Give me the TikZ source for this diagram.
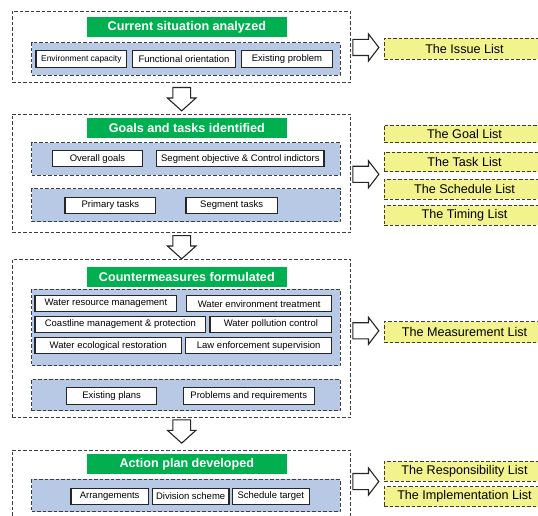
\documentclass[tikz,border=0pt]{standalone}
\usepackage{fontspec}
\setmainfont{Liberation Sans}
\usetikzlibrary{shapes.arrows}
\definecolor{titlegreen}{RGB}{0,176,80}
\definecolor{panelblue}{RGB}{183,201,228}
\definecolor{listyellow}{RGB}{243,243,142}
\definecolor{dashgray}{RGB}{60,60,60}
\tikzset{
 dashline/.style={draw=dashgray, line width=0.9pt, dash pattern=on 3.5pt off 2pt},
 outerbox/.style={dashline, fill=white, inner sep=0pt, minimum width=338.7pt},
 panel/.style={dashline, fill=panelblue, inner sep=0pt, minimum width=308.3pt},
 titlebox/.style={fill=titlegreen, text=white, font=\fontsize{12.6}{14}\selectfont\bfseries, inner sep=0pt, minimum width=200.3pt, minimum height=20pt},
 item/.style={draw=black!85, line width=1.1pt, fill=white, inner sep=0pt, font=\fontsize{9.5}{11}\selectfont, minimum height=16.4pt},
 listbox/.style={dashline, fill=listyellow, inner sep=0pt, minimum width=161pt, font=\fontsize{12.6}{14}\selectfont},
 downarrow/.style={single arrow, draw=black!85, line width=1.1pt, fill=white, rotate=-90, anchor=tail, inner xsep=0pt, inner ysep=8.35pt, single arrow head extend=5.35pt, minimum height=23.3pt, single arrow tip angle=96},
 rightarrow/.style={single arrow, draw=black!85, line width=1.1pt, fill=white, anchor=tail, inner xsep=0pt, inner ysep=7.5pt, single arrow head extend=5.5pt, minimum height=26pt, single arrow tip angle=105},
}
\begin{document}
\begin{tikzpicture}[x=1pt,y=-1pt]
\useasboundingbox (0,0) rectangle (538,516);
\clip (0,0) rectangle (538,516);
\fill[white] (0,0) rectangle (538,516);
% Stage 1
\node[outerbox, minimum height=71pt] (ob1) at (181.35,46.5) {};
\node[titlebox] (t1) at (186.85,27.35) {Current situation analyzed};
\node[panel, minimum height=32.6pt] (p1) at (185.85,59) {};
\node[item, minimum width=90.7pt, font=\fontsize{8.4}{10}\selectfont] (env) at (81.35,59) {Environment capacity};
\node[item, minimum width=102.6pt] (func) at (184,59) {Functional orientation};
\node[item, minimum width=90.6pt] (exist) at (287,59) {Existing problem};
\node[downarrow] (a1) at (181.7,87) {};
% Stage 2
\node[outerbox, minimum height=118.4pt] (ob2) at (181.35,173.5) {};
\node[titlebox] (t2) at (186.85,128.3) {Goals and tasks identified};
\node[panel, minimum height=32.6pt] (p2a) at (185.85,159) {};
\node[item, minimum width=90.4pt] (og) at (97.5,158.7) {Overall goals};
\node[item, minimum width=167.3pt] (so) at (240.35,158.7) {Segment objective \& Control indictors};
\node[panel, minimum height=33pt] (p2b) at (185.85,205.2) {};
\node[item, minimum width=90.7pt] (pt) at (110.35,205.5) {Primary tasks};
\node[item, minimum width=91.3pt] (st) at (231.65,205.5) {Segment tasks};
\node[downarrow] (a2) at (181.7,235) {};
% Stage 3
\node[outerbox, minimum height=158.4pt] (ob3) at (181.35,338.5) {};
\node[titlebox] (t3) at (186.85,276.7) {Countermeasures formulated};
\node[panel, minimum height=76.4pt] (p3a) at (185.85,327.5) {};
\node[item, minimum width=141.7pt] (wrm) at (105.85,303.7) {Water resource management};
\node[item, minimum width=145pt] (wet) at (259.2,303.7) {Water environment treatment};
\node[item, minimum width=170.7pt] (coast) at (120.35,324.35) {Coastline management \& protection};
\node[item, minimum width=121.7pt] (wpc) at (270.85,324.35) {Water pollution control};
\node[item, minimum width=146.7pt] (wer) at (108.35,345.65) {Water ecological restoration};
\node[item, minimum width=146pt] (les) at (258.7,345.65) {Law enforcement supervision};
\node[panel, minimum height=31.4pt] (p3b) at (185.85,395) {};
\node[item, minimum width=90pt] (ep) at (111.7,395.85) {Existing plans};
\node[item, minimum width=131pt] (pr) at (248.8,395.85) {Problems and requirements};
\node[downarrow] (a3) at (181.7,419.3) {};
% Stage 4
\node[outerbox, minimum height=80pt] (ob4) at (181.35,490) {};
\node[titlebox] (t4) at (186.85,464.3) {Action plan developed};
\node[panel, minimum height=32.4pt] (p4) at (185.85,495.5) {};
\node[item, minimum width=77.3pt] (arr) at (109.65,496.3) {Arrangements};
\node[item, minimum width=76.7pt] (div) at (190.65,496.3) {Division scheme};
\node[item, minimum width=77pt] (sch) at (270.8,496.3) {Schedule target};
% Right arrows
\node[rightarrow] (r1) at (352.3,47.5) {};
\node[rightarrow] (r2) at (352.3,174.3) {};
\node[rightarrow] (r3) at (352.3,330.8) {};
\node[rightarrow] (r4) at (352.3,481.5) {};
% Lists
\node[listbox, minimum height=20.7pt] (issue) at (464.5,48.65) {The Issue List};
\node[listbox, minimum height=17.7pt] (goal) at (464.5,133.85) {The Goal List};
\node[listbox, minimum height=19.4pt] (task) at (464.5,162) {The Task List};
\node[listbox, minimum height=20pt] (sched) at (464.5,189) {The Schedule List};
\node[listbox, minimum height=20pt] (timing) at (464.5,215) {The Timing List};
\node[listbox, minimum height=21pt] (meas) at (464.5,332.2) {The Measurement List};
\node[listbox, minimum height=20pt] (resp) at (464.5,471) {The Responsibility List};
\node[listbox, minimum height=20pt] (impl) at (464.5,496.7) {The Implementation List};
\end{tikzpicture}
\end{document}
